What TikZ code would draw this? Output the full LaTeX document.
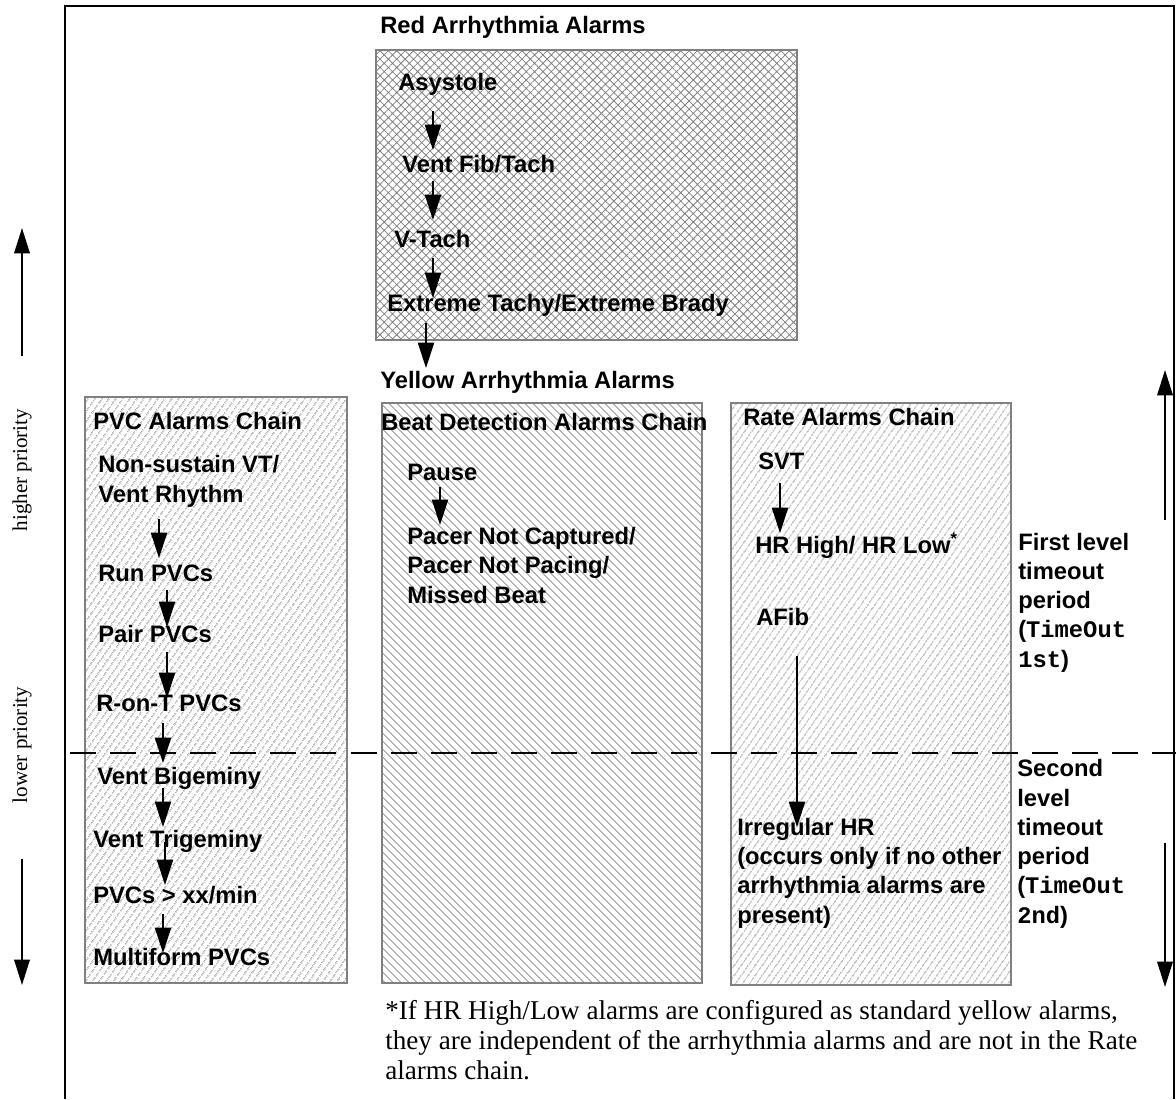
\documentclass[tikz,border=0pt]{standalone}
\usepackage{fontspec}
\setmainfont{Liberation Serif}
\setsansfont{Liberation Sans}
\setmonofont{Liberation Mono}
\usetikzlibrary{arrows.meta,calc,patterns.meta}

\tikzset{
  alarm/.style={font=\sffamily\bfseries\fontsize{16.9}{20.8}\selectfont, anchor=base west, inner sep=0pt, align=left},
  chainbox/.style={draw=gray, line width=1.4pt},
  flow/.style={line width=1pt, -{Triangle[length=18pt,width=11.5pt]}},
  priority/.style={line width=1.4pt, -{Triangle[length=18pt,width=11pt]}},
  note/.style={font=\fontsize{19.3}{21.3}\selectfont, anchor=base west, inner sep=0pt, align=left},
  sidelabel/.style={font=\fontsize{15}{18}\selectfont, rotate=90, inner sep=0pt},
}

\begin{document}
\begin{tikzpicture}[x=0.025cm, y=-0.025cm]
  \useasboundingbox (0,0) rectangle (1176,1099);
  % outer frame
  \draw[line width=1.4pt] (65,1099) -- (65,6) -- (1174,6) -- (1174,1099);
  % red box
  \draw[chainbox, pattern={Hatch[angle=45,distance=4.2pt,line width=0.55pt]}, pattern color=gray] (376,50) rectangle (797,340);
  % yellow chains
  \draw[chainbox, pattern={Lines[angle=55,distance=4pt,line width=0.6pt]}, pattern color=gray!90] (85,397) rectangle (347,983);
  \draw[chainbox, pattern={Lines[angle=-45,distance=4pt,line width=0.6pt]}, pattern color=gray!90] (382,403) rectangle (702,983);
  \draw[chainbox, pattern={Lines[angle=55,distance=4pt,line width=0.6pt]}, pattern color=gray!90] (731,403) rectangle (1011,985);
  % timeout border
  \draw[line width=1.4pt, dash pattern=on 18.5pt off 10pt] (70,753) -- (1176,753);

  % red chain
  \node[alarm] (redtitle) at (380,33) {Red Arrhythmia Alarms};
  \node[alarm] (asys) at (398,90) {Asystole};
  \node[alarm] (vfib) at (402,172) {Vent Fib/Tach};
  \node[alarm] (vtach) at (394,247) {V-Tach};
  \node[alarm] (xtreme) at (387,311) {Extreme Tachy/Extreme Brady};
  \node[alarm] (yeltitle) at (380,388) {Yellow Arrhythmia Alarms};
  \draw[flow] ($(asys.base west)+(35,21)$) -- ($(vfib.base west)+(31,-22)$);
  \draw[flow] ($(vfib.base west)+(31,9)$) -- ($(vtach.base west)+(39,-27)$);
  \draw[flow] ($(vtach.base west)+(39,11)$) -- ($(xtreme.base west)+(46,-13)$);
  \draw[flow] ($(xtreme.base west)+(39,12)$) -- ($(yeltitle.base west)+(46,-20)$);

  % PVC chain
  \node[alarm] (pvctitle) at (93,429) {PVC Alarms Chain};
  \node[alarm] (nsvt) at (98,502) {Non-sustain VT/\\Vent Rhythm};
  \node[alarm] (runp) at (98,581) {Run PVCs};
  \node[alarm] (pairp) at (98,642) {Pair PVCs};
  \node[alarm] (ront) at (96,711) {R-on-T PVCs};
  \node[alarm] (bigem) at (97,784) {Vent Bigeminy};
  \node[alarm] (trigem) at (93,847) {Vent Trigeminy};
  \node[alarm] (pvcxx) at (93,903) {PVCs > xx/min};
  \node[alarm] (multi) at (93,965) {Multiform PVCs};
  \draw[flow] ($(nsvt.base west)+(61,17)$) -- ($(runp.base west)+(61,-23)$);
  \draw[flow] ($(runp.base west)+(69,9)$) -- ($(pairp.base west)+(69,-15)$);
  \draw[flow] ($(pairp.base west)+(69,10)$) -- ($(ront.base west)+(71,-13)$);
  \draw[flow] ($(ront.base west)+(67,12)$) -- ($(bigem.base west)+(66,-21)$);
  \draw[flow] ($(bigem.base west)+(66,4)$) -- ($(trigem.base west)+(70,-20)$);
  \draw[flow] ($(trigem.base west)+(72,-5)$) -- ($(pvcxx.base west)+(72,-18)$);
  \draw[flow] ($(pvcxx.base west)+(70,11)$) -- ($(multi.base west)+(70,-12)$);

  % beat detection chain
  \node[alarm] (beattitle) at (381,430) {Beat Detection Alarms Chain};
  \node[alarm] (pause) at (407,480) {Pause};
  \node[alarm] (pacer) at (407,603) {Pacer Not Captured/\\Pacer Not Pacing/\\Missed Beat};
  \draw[flow] ($(pause.base west)+(33,7)$) -- ($(pacer.base west)+(33,-78)$);

  % rate chain
  \node[alarm] (ratetitle) at (743,425) {Rate Alarms Chain};
  \node[alarm] (svt) at (758,469) {SVT};
  \node[alarm] (hrhl) at (755,553) {HR High/ HR Low\textsuperscript{*}};
  \node[alarm] (afib) at (756,625) {AFib};
  \node[alarm] (irr) at (737,923) {Irregular HR\\(occurs only if no other\\arrhythmia alarms are\\present)};
  \draw[flow] ($(svt.base west)+(22,14)$) -- ($(hrhl.base west)+(25,-20)$);
  \draw[flow] ($(afib.base west)+(41,31)$) -- ($(irr.base west)+(60,-96)$);

  % timeout periods
  \node[alarm] (first) at (1018,667) {First level\\timeout\\period\\(\texttt{TimeOut}\\\texttt{1st})};
  \node[alarm] (second) at (1017,923) {Second\\level\\timeout\\period\\(\texttt{TimeOut}\\\texttt{2nd})};
  \coordinate (firsttip) at (1165,370);
  \coordinate (secondtip) at (1165,987);
  \draw[priority] (1165,520) -- (firsttip);
  \draw[priority] (1165,843) -- (secondtip);

  % priority axis
  \node[sidelabel] (higher) at (22,470) {higher priority};
  \node[sidelabel] (lower) at (22,745) {lower priority};
  \coordinate (hightip) at (22,228);
  \coordinate (lowtip) at (22,985);
  \draw[priority] ($(higher.east)+(0,-53)$) -- (hightip);
  \draw[priority] ($(lower.west)+(0,55)$) -- (lowtip);

  % footnote
  \node[note] (footnote) at (385,1079) {*If HR High/Low alarms are configured as standard yellow alarms,\\they are independent of the arrhythmia alarms and are not in the Rate\\alarms chain.};
\end{tikzpicture}
\end{document}
